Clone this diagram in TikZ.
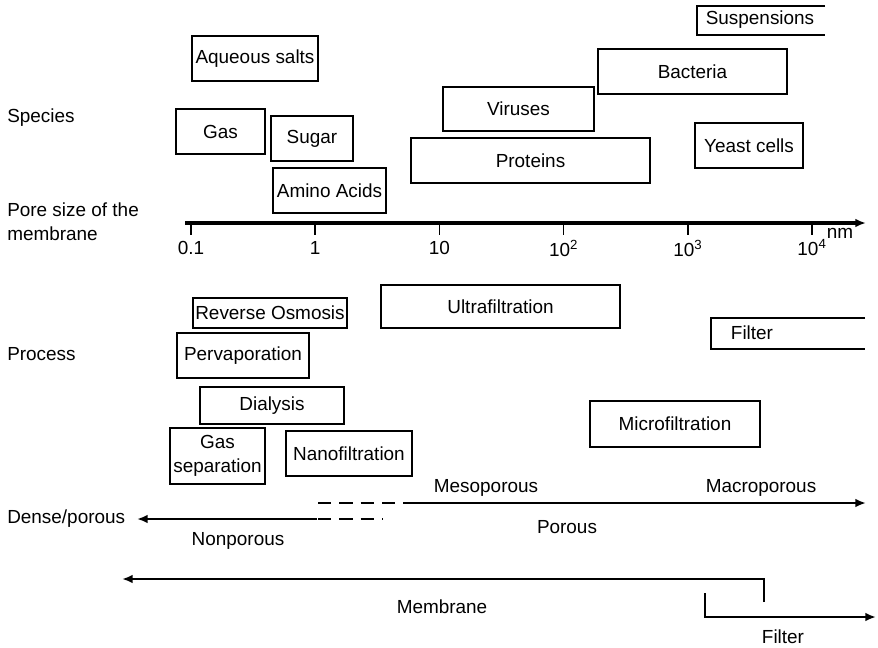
\documentclass[tikz,border=0pt]{standalone}
\usepackage{fontspec}
\setmainfont{Liberation Sans}
\usetikzlibrary{arrows.meta}
\begin{document}
\begin{tikzpicture}[x=0.75pt,y=-0.75pt,size/.style 2 args={minimum width=0.75*#1pt,minimum height=0.75*#2pt}]
		\tikzstyle{every node}+=[inner sep=0pt,font=\fontsize{14.2}{18}\selectfont]
		\tikzstyle{box}=[draw,line width=1.6pt]
		\tikzstyle{thinbox}=[draw,line width=1pt]
		\tikzstyle{axisline}=[line width=2.5pt,-{Latex[length=8pt,width=6.5pt]}]
		\tikzstyle{rangeline}=[line width=2.1pt,-{Latex[length=8pt,width=6.5pt]}]
		\useasboundingbox (0,0) rectangle (878,647);
		\node[anchor=west] (species) at (7,118) {Species};
		\node[anchor=west,align=left] (poresize) at (7,222) {Pore size of the\\membrane};
		\node[anchor=west] (process) at (7,354) {Process};
		\node[anchor=west] (denseporous) at (7,519) {Dense/porous};
		\node[box,size={126}{45}] (aqsalts) at (255,58.5) {Aqueous salts};
		\node[box,size={89}{45}] (gas) at (220.5,131.5) {Gas};
		\node[box,size={82}{45}] (sugar) at (312,138.5) {Sugar};
		\node[box,size={113}{45}] (aminoacids) at (329.5,190.5) {Amino Acids};
		\node[box,size={151}{44}] (viruses) at (518.5,109) {Viruses};
		\node[box,size={239}{45}] (proteins) at (530.5,160.5) {Proteins};
		\node[box,size={189}{45}] (bacteria) at (692.5,71.5) {Bacteria};
		\node[box,size={108}{45}] (yeast) at (749,145.5) {Yeast cells};
		\node (suspensions) at (760,20) {Suspensions};
		\draw[line width=1.6pt] (825,6) -- (697,6) -- (697,35) -- (825,35);
		\coordinate (axisstart) at (185,223);
		\coordinate (axisend) at (866,223);
		\draw[axisline] (axisstart) -- (axisend);
		\foreach \i/\lab in {0/0.1,1/1,2/10,3/10\textsuperscript{2},4/10\textsuperscript{3},5/10\textsuperscript{4}} {
			\coordinate (tick\i) at (191+124.2*\i,223);
			\draw[line width=1.1pt] (tick\i) -- ++(0,12);
			\node (ticklab\i) at (191+124.2*\i,248) {\lab};
		}
		\node (nm) at (840,233) {nm};
		\node[box,size={239}{43}] (ultrafilt) at (500.5,306.5) {Ultrafiltration};
		\node[thinbox,size={154}{30}] (revosmosis) at (270,313) {Reverse Osmosis};
		\node[box,size={132}{45}] (pervap) at (243,355.5) {Pervaporation};
		\node[box,size={144}{37}] (dialysis) at (272,405.5) {Dialysis};
		\node[thinbox,size={95}{56},align=center] (gassep) at (217.5,456) {Gas\\separation};
		\node[box,size={126}{45}] (nanofilt) at (349,453.5) {Nanofiltration};
		\node[box,size={170}{46}] (microfilt) at (675,424) {Microfiltration};
		\node (filterproc) at (752,333) {Filter};
		\draw[line width=1.6pt] (865,318) -- (711,318) -- (711,349) -- (865,349);
		\coordinate (nonporend) at (317,519);
		\coordinate (nonportip) at (137,519);
		\coordinate (porstart) at (412,503);
		\coordinate (portip) at (866,503);
		\draw[rangeline] (nonporend) -- (nonportip);
		\draw[line width=1.6pt,dash pattern=on 10pt off 6pt] (318,503) -- (porstart);
		\draw[line width=1.6pt,dash pattern=on 10pt off 6pt] (318,519) -- (383,519);
		\draw[rangeline] (porstart) -- (portip);
		\node (mesoporous) at (486,488) {Mesoporous};
		\node (macroporous) at (761,488) {Macroporous};
		\node (porous) at (567,527) {Porous};
		\node (nonporous) at (238,541) {Nonporous};
		\coordinate (membend) at (764,602);
		\coordinate (membtip) at (122,579);
		\draw[rangeline] (membend) |- (membtip);
		\coordinate (filtstart) at (705,593);
		\coordinate (filttip) at (876,617);
		\draw[rangeline] (filtstart) |- (filttip);
		\node (membrane) at (442,607) {Membrane};
		\node (filter) at (783,637) {Filter};
		\end{tikzpicture}
\end{document}
